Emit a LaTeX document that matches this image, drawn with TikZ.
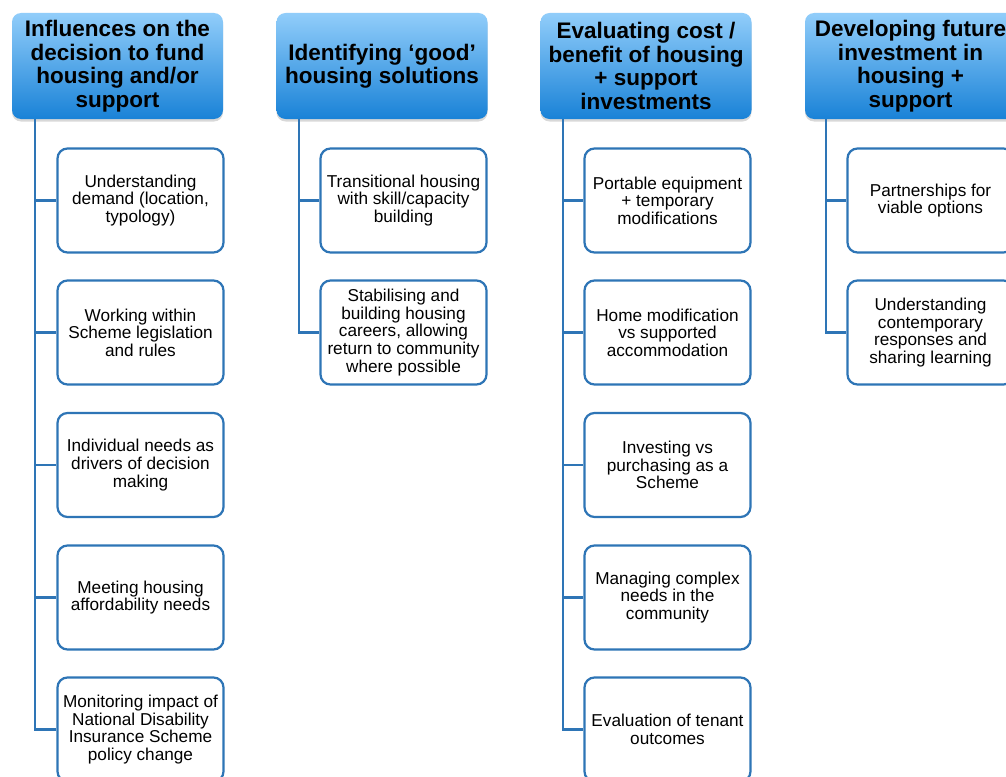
\documentclass[tikz,border=0pt]{standalone}
\usepackage{fontspec}
\setmainfont{Liberation Sans}
\usetikzlibrary{shadows}
\definecolor{hdrtop}{RGB}{145,205,250}
\definecolor{hdrbot}{RGB}{25,130,215}
\definecolor{lineblue}{RGB}{46,117,182}
\tikzset{
 hdr/.style={draw=none, rounded corners=9pt, minimum width=211pt, minimum height=106pt,
   top color=hdrtop, bottom color=hdrbot, align=center,
   font=\fontsize{22.5}{23.5}\selectfont\bfseries,
   drop shadow={opacity=0.3,shadow xshift=0pt,shadow yshift=-2.5pt}, inner sep=0pt},
 item/.style={draw=lineblue, line width=2.2pt, rounded corners=10pt, fill=white,
   minimum width=166pt, minimum height=104pt, align=center,
   font=\fontsize{17.2}{17.6}\selectfont, inner sep=0pt},
 conn/.style={draw=lineblue, line width=2.4pt}
}
\begin{document}
\begin{tikzpicture}[x=1pt,y=-1pt]
\useasboundingbox (0,0) rectangle (1006,776);
\clip (0,0) rectangle (1006,776);
\fill[white] (0,0) rectangle (1006,776);

% headers
\node[hdr] (h1) at (117.5,66) {Influences on the\\decision to fund\\housing and/or\\support};
\node[hdr] (h2) at (382,66) {Identifying ‘good’\\housing solutions};
\node[hdr] (h3) at (646,66) {Evaluating cost /\\benefit of housing\\+ support\\investments};
\node[hdr] (h4) at (910.5,66) {Developing future\\investment in\\housing +\\support};

% trunk start points
\coordinate (t1) at (35,119);
\coordinate (t2) at (299,119);
\coordinate (t3) at (563,119);
\coordinate (t4) at (826,119);

% column 1
\node[item] (a1) at (140.5,200.5) {Understanding\\demand (location,\\typology)};
\node[item] (a2) at (140.5,332.5) {Working within\\Scheme legislation\\and rules};
\node[item] (a3) at (140.5,465) {Individual needs as\\drivers of decision\\making};
\node[item] (a4) at (140.5,597.5) {Meeting housing\\affordability needs};
\node[item] (a5) at (140.5,729.5) {Monitoring impact of\\National Disability\\Insurance Scheme\\policy change};

% column 2
\node[item] (b1) at (403.5,200.5) {Transitional housing\\with skill/capacity\\building};
\node[item] (b2) at (403.5,332.5) {Stabilising and\\building housing\\careers, allowing\\return to community\\where possible};

% column 3
\node[item] (c1) at (667.5,200.5) {Portable equipment\\+ temporary\\modifications};
\node[item] (c2) at (667.5,332.5) {Home modification\\vs supported\\accommodation};
\node[item] (c3) at (667.5,465) {Investing vs\\purchasing as a\\Scheme};
\node[item] (c4) at (667.5,597.5) {Managing complex\\needs in the\\community};
\node[item] (c5) at (667.5,729.5) {Evaluation of tenant\\outcomes};

% column 4
\node[item] (d1) at (930.5,200.5) {Partnerships for\\viable options};
\node[item] (d2) at (930.5,332.5) {Understanding\\contemporary\\responses and\\sharing learning};

% connectors
\foreach \n in {a1,a2,a3,a4,a5} \draw[conn] (t1) |- (\n.west);
\foreach \n in {b1,b2} \draw[conn] (t2) |- (\n.west);
\foreach \n in {c1,c2,c3,c4,c5} \draw[conn] (t3) |- (\n.west);
\foreach \n in {d1,d2} \draw[conn] (t4) |- (\n.west);
\end{tikzpicture}
\end{document}
